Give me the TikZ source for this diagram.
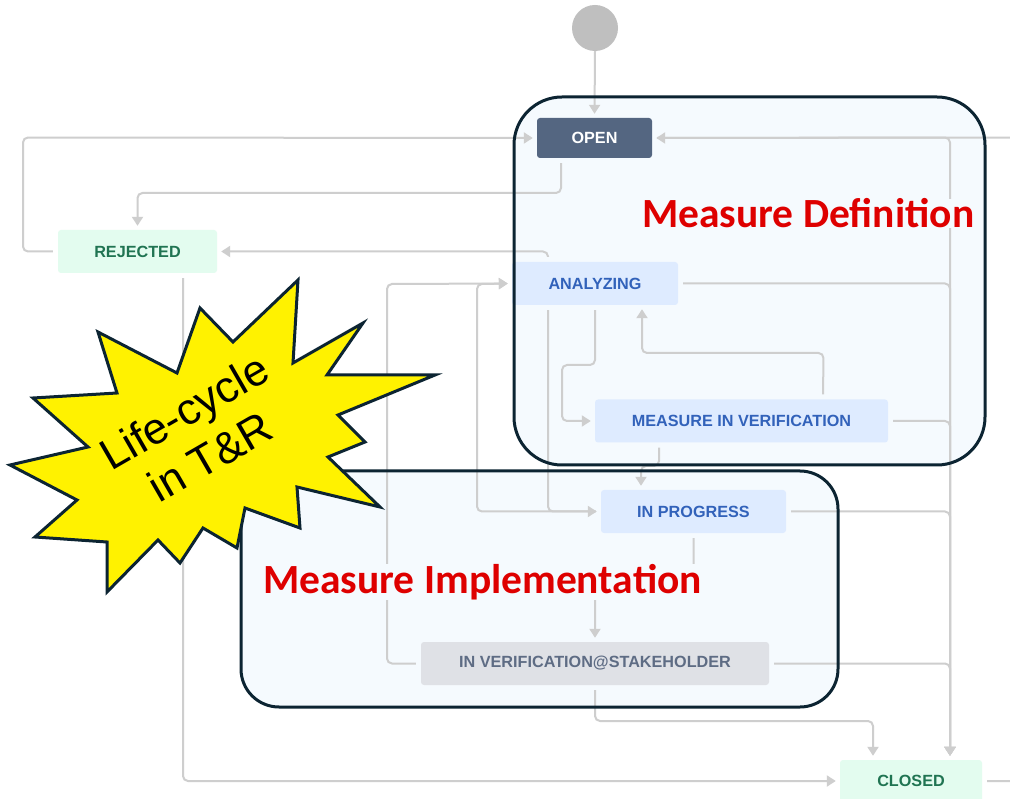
\documentclass[tikz,border=0pt]{standalone}
\usepackage{fontspec}
\setmainfont{Liberation Sans}
\newfontfamily\carlito{Carlito}
\usetikzlibrary{arrows.meta}
\definecolor{lnc}{RGB}{206,206,206}
\definecolor{openfill}{RGB}{84,102,129}
\definecolor{bluefill}{RGB}{222,235,255}
\definecolor{bluetext}{RGB}{50,98,186}
\definecolor{greenfill}{RGB}{227,252,239}
\definecolor{greentext}{RGB}{32,116,82}
\definecolor{grayfill}{RGB}{223,225,230}
\definecolor{graytext}{RGB}{94,108,132}
\definecolor{framefill}{RGB}{245,250,254}
\definecolor{frameline}{RGB}{12,36,50}
\definecolor{redtext}{RGB}{222,0,0}
\definecolor{startc}{RGB}{191,191,191}
\begin{document}
\begin{tikzpicture}[x=1pt,y=-1pt,
  stbox/.style={rectangle, rounded corners=3pt, inner sep=0pt,
    font=\fontsize{16.2}{19}\selectfont\bfseries},
  bluebox/.style={stbox, fill=bluefill, text=bluetext},
  greenbox/.style={stbox, fill=greenfill, text=greentext},
  conn/.style={draw=lnc, line width=2pt, rounded corners=5pt,
    -{Triangle[width=11pt,length=9pt]}, shorten >=4pt, shorten <=5pt},
  frame/.style={draw=frameline, line width=3pt},
  zone/.style={font=\carlito\bfseries\fontsize{41.5}{48}\selectfont, text=redtext, inner sep=0pt}]
\useasboundingbox (0,0) rectangle (1010,799);
\fill[white] (0,0) rectangle (1010,799);
% frame fills
\fill[framefill] (514,97) [rounded corners=48pt] rectangle (985,465);
\fill[framefill] (241,471) [rounded corners=38pt] rectangle (838,707);
% states
\node[circle, fill=startc, minimum size=46pt, inner sep=0pt] (start) at (595,28) {};
\node[stbox, fill=openfill, text=white, minimum width=115pt, minimum height=40pt] (open) at (594.5,138) {OPEN};
\node[greenbox, minimum width=159pt, minimum height=43pt] (rej) at (137.5,251.5) {REJECTED};
\node[bluebox, minimum width=166pt, minimum height=43pt] (ana) at (595,283.5) {ANALYZING};
\node[bluebox, minimum width=293pt, minimum height=43pt] (miv) at (741.5,421) {MEASURE IN VERIFICATION};
\node[bluebox, minimum width=185pt, minimum height=43pt] (inp) at (693.5,511.5) {IN PROGRESS};
\node[stbox, fill=grayfill, text=graytext, minimum width=348pt, minimum height=43pt] (ivs) at (595,663.5) {IN VERIFICATION@STAKEHOLDER};
\node[greenbox, minimum width=142pt, minimum height=42pt] (closed) at (911,781) {CLOSED};
% connectors
\draw[conn, shorten <=0pt] (start.south) -- (open.north);
\draw[conn] (rej.west) -- (23,251.5) -- (23,137.5) -- (open.west);
\draw[conn] ([xshift=-33.5pt]open.south) -- (561,193) -- (137.5,193) -- (rej.north);
\draw[conn] (closed.east) -- (1030,781) -- (1030,137.5) -- (open.east);
\draw[conn] ([xshift=-47pt]ana.north) -- (548,251.5) -- (rej.east);
\draw[conn] ([xshift=45.5pt]rej.south) -- (183,781) -- (closed.west);
\draw[conn] (ivs.west) -- (387,663.5) -- (387,284) -- (ana.west);
\draw[conn] (inp.west) -- (477,511.5) -- (477,284) -- (ana.west);
\draw[conn] ([xshift=-47pt]ana.south) -- (548,511.5) -- (inp.west);
\draw[conn] (ana.south) -- (595,365) -- (562,365) -- (562,421) -- (miv.west);
\draw[conn] ([xshift=81.5pt]miv.north) -- (823.5,353) -- (642,353) -- ([xshift=47pt]ana.south);
\draw[conn] ([xshift=-82.5pt]miv.south) -- (659,466) -- (641,466) -- ([xshift=-52.5pt]inp.north);
\draw[conn] (inp.south) -- (693.5,590) -- (595,590) -- (ivs.north);
\draw[conn] (ivs.south) -- (595,721) -- (873,721) -- ([xshift=-38pt]closed.north);
\draw[conn] (open.east) -- (950,137.5) -- ([xshift=39pt]closed.north);
\draw[conn] (ana.east) -- (950,283.5) -- ([xshift=39pt]closed.north);
\draw[conn] (miv.east) -- (950,421) -- ([xshift=39pt]closed.north);
\draw[conn] (inp.east) -- (950,511.5) -- ([xshift=39pt]closed.north);
\draw[conn] (ivs.east) -- (950,663.5) -- ([xshift=39pt]closed.north);
% frame borders
\draw[frame] (514,97) [rounded corners=48pt] rectangle (985,465);
\draw[frame] (241,471) [rounded corners=38pt] rectangle (838,707);
% zone titles
\node[zone, anchor=base west, fill=framefill] (mdef) at (642,228) {Measure Definition};
\node[zone, anchor=base west, fill=framefill] (mimp) at (263,593) {Measure Implementation};
% star
\draw[fill=yellow, draw=frameline, line width=3pt, line join=miter, miter limit=20]
  (298,280) -- (293,363) -- (363,323) -- (327,375) -- (435,375) -- (338,415) --
  (365,442) -- (328,457) -- (380,507) -- (297,487) -- (300,528) -- (245,508) --
  (237,548) -- (203,528) -- (180,563) -- (158,540) -- (107,592) -- (107,542) --
  (35,537) -- (77,500) -- (10,465) -- (88,447) -- (33,398) -- (117,393) --
  (98,332) -- (177,373) -- (200,308) -- (233,342) -- cycle;
\node[rotate=30, align=center, font=\fontsize{44}{52}\selectfont, inner sep=0pt] (life) at (197,434) {Life-cycle\\in T\&R};
\end{tikzpicture}
\end{document}
